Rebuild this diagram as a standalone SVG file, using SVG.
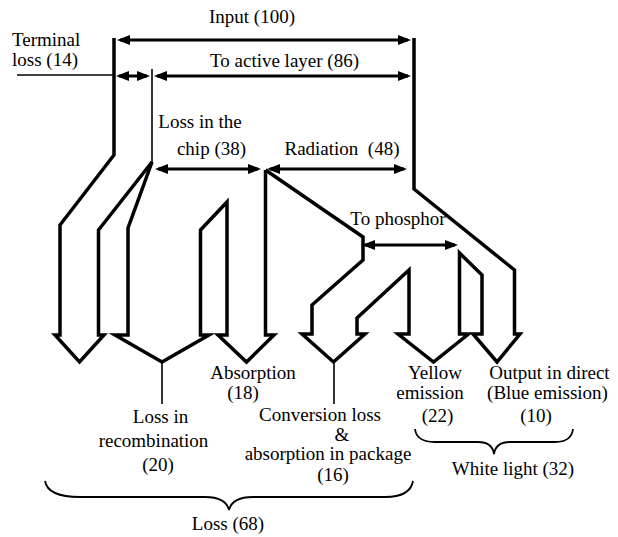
<svg xmlns="http://www.w3.org/2000/svg" width="618" height="537" viewBox="0 0 618 537">
<style>
text{font-family:"Liberation Serif",serif;font-size:19px;fill:#000}
.m{text-anchor:middle}
.band{fill:none;stroke:#000;stroke-width:3.5;stroke-linejoin:miter;stroke-miterlimit:10}
.dim{fill:none;stroke:#000;stroke-width:3;marker-start:url(#ah);marker-end:url(#ah)}
.thin{fill:none;stroke:#000;stroke-width:1.6}
.brace{fill:none;stroke:#000;stroke-width:1.8}
</style>
<defs>
<marker id="ah" viewBox="0 0 13 10" refX="10" refY="5" markerWidth="13" markerHeight="10" markerUnits="userSpaceOnUse" orient="auto-start-reverse">
<path d="M0,0 L13,5 L0,10 z" fill="#000"/>
</marker>
</defs>
<rect width="618" height="537" fill="#fff"/>
<g id="connectors">
<path class="band" d="M114,38 L114,155 L60,225 L60,335 L55,335 L79.5,362 L104,335 L98.5,335 L98.5,230 L152,162"/>
<path class="band" d="M152,162 L128,228 L128,335 L115,335 L162,362 L209,335 L200.5,335 L200.5,230 L227,202 L227,335 L218,335 L246.5,362 L274,335 L265.5,335 L265.5,170"/>
<path class="band" d="M265.5,170 L363,237 L363,260 L312,305 L312,334 L302,334 L333.5,362 L365,334 L357,334 L357,318 L409,270 L409,334 L398,334 L433.5,362 L468.5,334 L459.5,334 L459.5,253 L482,275 L482,334 L473,334 L497,362 L520,334 L514.5,334 L514.5,270 L414,189 L414,38"/>
<line class="dim" x1="120" y1="40" x2="408" y2="40"/>
<line class="dim" x1="119" y1="76" x2="147" y2="76"/>
<line class="dim" x1="157" y1="76" x2="408" y2="76"/>
<line class="dim" x1="158" y1="169" x2="258" y2="169"/>
<line class="dim" x1="270" y1="169" x2="404" y2="169"/>
<line class="dim" x1="365" y1="245" x2="455" y2="245"/>
<line class="thin" x1="17" y1="75" x2="113" y2="75"/>
<line class="thin" x1="152" y1="69" x2="152" y2="163"/>
<line class="thin" x1="162" y1="362" x2="162" y2="404"/>
<line class="thin" x1="334" y1="362" x2="334" y2="404"/>
<path class="brace" d="M45,481 C47,493 60,497 80,497 L205,497 C220,497 227,502 229,510 C231,502 238,497 253,497 L385,497 C400,497 411,493 413,481"/>
<path class="brace" d="M415,429 C416,438 424,442 435,442 L478,442 C488,442 493,447 494,454 C495,447 500,442 510,442 L555,442 C566,442 572,438 573,429"/>
</g>
<g id="input"><text class="m" x="252" y="23">Input (100)</text></g>
<g id="terminal-loss"><text x="12" y="46">Terminal</text><text x="12" y="66">loss (14)</text></g>
<g id="active-layer"><text class="m" x="284.5" y="67">To active layer (86)</text></g>
<g id="chip-loss"><text class="m" x="200" y="128">Loss in the</text><text class="m" x="211.5" y="155">chip (38)</text></g>
<g id="radiation"><text class="m" x="342" y="155" xml:space="preserve">Radiation  (48)</text></g>
<g id="phosphor"><text class="m" x="398" y="225">To phosphor</text></g>
<g id="absorption"><text class="m" x="253" y="379">Absorption</text><text class="m" x="243" y="399">(18)</text></g>
<g id="recombination"><text class="m" x="160.5" y="423">Loss in</text><text class="m" x="153.5" y="447">recombination</text><text class="m" x="158" y="471">(20)</text></g>
<g id="conversion"><text class="m" x="320" y="421">Conversion loss</text><text class="m" x="342" y="441">&amp;</text><text class="m" x="328" y="460">absorption in package</text><text class="m" x="333" y="481">(16)</text></g>
<g id="yellow"><text class="m" x="435" y="379">Yellow</text><text class="m" x="430" y="399">emission</text><text class="m" x="437.5" y="422">(22)</text></g>
<g id="direct"><text class="m" x="549.5" y="379">Output in direct</text><text class="m" x="547.5" y="399">(Blue emission)</text><text class="m" x="536" y="422">(10)</text></g>
<g id="white-light"><text class="m" x="513" y="475">White light (32)</text></g>
<g id="loss"><text class="m" x="228" y="530">Loss (68)</text></g>
</svg>
